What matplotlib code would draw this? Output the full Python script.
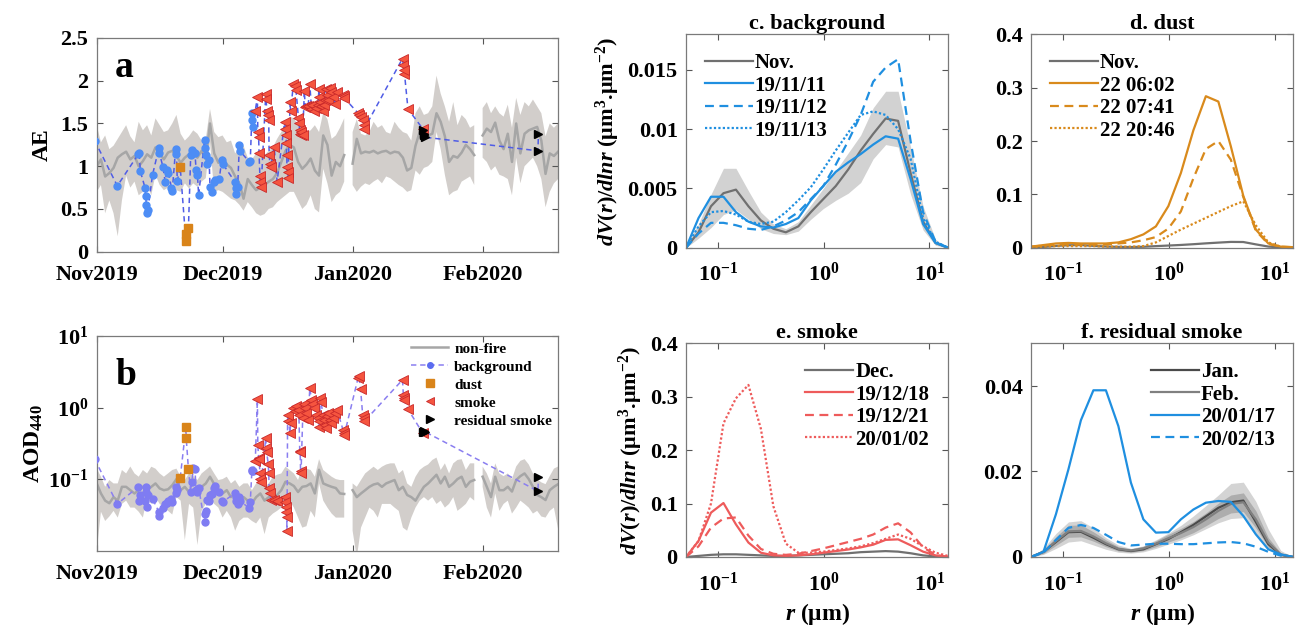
import numpy as np
import matplotlib
matplotlib.use("Agg")
import matplotlib.pyplot as plt
from matplotlib.lines import Line2D

plt.rcParams["font.family"] = ["Liberation Serif", "DejaVu Serif"]
plt.rcParams["font.weight"] = "bold"
plt.rcParams["axes.labelweight"] = "bold"
plt.rcParams["axes.titleweight"] = "bold"
plt.rcParams["mathtext.fontset"] = "custom"
plt.rcParams["mathtext.rm"] = "Liberation Serif:bold"
plt.rcParams["mathtext.it"] = "Liberation Serif:italic:bold"
plt.rcParams["mathtext.bf"] = "Liberation Serif:bold"

# ---------------------- time series (days since 2019-11-01) ----------------------
month_ticks = [0, 30, 61, 92]
month_labels = ["Nov2019", "Dec2019", "Jan2020", "Feb2020"]

nan = np.nan
nf_days = np.arange(111)
nf_ae_mean = [1.00, 1.08, 0.88, 0.92, 0.98, 1.10, 1.14, 1.17, 1.08, 1.12,
              1.00, 1.06, 1.14, 1.10, 1.22, 1.15, 1.08, 1.16, 1.18, 1.12,
              1.04, 1.10, 1.14, 1.16, 1.10, 1.18, 1.08, 1.50, 1.15, 1.04,
              1.10, 1.02, 0.98, 0.88, 0.80, 0.62, 0.85, 0.78, 0.72, 0.75,
              0.78, 0.82, 0.85, 0.92, 1.05, 1.18, 1.25, 1.22, 1.05, 0.97,
              1.02, 1.09, 0.95, 0.89, 1.36, 1.25, 0.89, 1.05, 1.00, 1.13,
              nan, 1.03, 1.32, 1.15, 1.17, 1.16, 1.18, 1.15, 1.17, 1.18,
              1.15, 1.17, 1.16, 1.10, 0.95, 0.98, 1.24, 1.40, 1.33, 1.36,
              1.38, 1.62, 1.52, 1.35, 1.05, 1.12, 1.10, 1.16, 1.25, 1.20,
              1.13, nan, 1.36, 1.44, 1.40, 1.51, 1.30, 1.20, 1.38, 1.05,
              1.50, 1.15, 1.38, 1.42, 1.44, 1.46, 1.30, 0.91, 1.15, 1.12, 1.17]
nf_ae_lo = [0.70, 0.78, 0.45, 0.60, 0.45, 0.18, 0.60, 0.89, 0.75, 0.82,
            0.66, 0.70, 0.78, 0.66, 0.90, 0.78, 0.72, 0.75, 0.80, 0.72,
            0.70, 0.80, 0.74, 0.80, 0.76, 0.82, 0.86, 1.28, 0.70, 0.72,
            0.70, 0.66, 0.62, 0.60, 0.55, 0.48, 0.58, 0.52, 0.45, 0.42,
            0.44, 0.50, 0.52, 0.58, 0.62, 0.66, 0.70, 0.70, 0.60, 0.50,
            0.55, 0.66, 0.50, 0.46, 0.97, 0.80, 0.58, 0.66, 0.70, 0.82,
            nan, 0.78, 0.70, 0.76, 0.80, 0.78, 0.82, 0.85, 0.80, 0.88,
            0.86, 0.82, 0.78, 0.75, 0.70, 0.72, 0.95, 0.90, 0.98, 1.00,
            1.05, 1.40, 1.20, 0.90, 0.66, 0.70, 0.72, 0.82, 0.85, 0.88,
            0.78, nan, 1.10, 1.05, 0.95, 1.00, 0.90, 0.88, 0.85, 0.66,
            1.10, 0.80, 1.00, 1.05, 1.10, 1.00, 0.85, 0.52, 0.70, 0.80, 0.85]
nf_ae_hi = [1.48, 1.28, 1.36, 1.20, 1.24, 1.32, 1.40, 1.48, 1.35, 1.28,
            1.52, 1.42, 1.48, 1.36, 1.56, 1.48, 1.40, 1.42, 1.50, 1.60,
            1.38, 1.30, 1.35, 1.42, 1.38, 1.30, 1.32, 1.67, 1.40, 1.34,
            1.36, 1.28, 1.30, 1.15, 1.22, 1.24, 1.10, 1.08, 1.15, 1.12,
            1.13, 1.18, 1.22, 1.32, 1.40, 1.50, 1.58, 1.56, 1.48, 1.44,
            1.40, 1.42, 1.48, 1.40, 1.63, 1.55, 1.32, 1.36, 1.45, 1.56,
            nan, 1.40, 1.55, 1.38, 1.36, 1.40, 1.52, 1.45, 1.48, 1.40,
            1.38, 1.52, 1.45, 1.40, 1.38, 1.30, 1.62, 1.70, 1.60, 1.62,
            1.70, 2.06, 1.85, 1.70, 1.52, 1.75, 1.48, 1.60, 1.55, 1.45,
            1.48, nan, 1.68, 1.75, 1.62, 1.70, 1.62, 1.58, 1.72, 1.45,
            1.80, 1.60, 1.75, 1.70, 1.78, 1.70, 1.62, 1.35, 1.50, 1.45, 1.50]

nf_aod_mean = [0.087, 0.063, 0.050, 0.046, 0.056, 0.050, 0.078, 0.078, 0.070, 0.063,
               0.070, 0.078, 0.070, 0.078, 0.087, 0.074, 0.070, 0.072, 0.082, 0.100,
               0.070, 0.078, 0.066, 0.065, 0.063, 0.078, 0.087, 0.108, 0.085, 0.070,
               0.063, 0.070, 0.056, 0.063, 0.052, 0.056, 0.050, 0.046, 0.056, 0.063,
               0.050, 0.056, 0.058, 0.060, 0.070, 0.092, 0.087, 0.080, 0.066, 0.078,
               0.080, 0.087, 0.063, 0.135, 0.087, 0.082, 0.078, 0.075, 0.063, 0.062,
               nan, 0.070, 0.056, 0.063, 0.070, 0.078, 0.084, 0.087, 0.078, 0.087,
               0.092, 0.097, 0.070, 0.078, 0.060, 0.056, 0.050, 0.063, 0.078, 0.087,
               0.100, 0.115, 0.087, 0.108, 0.078, 0.087, 0.100, 0.108, 0.078, 0.092,
               0.097, nan, 0.108, 0.078, 0.056, 0.108, 0.070, 0.070, 0.078, 0.067,
               0.097, 0.110, 0.120, 0.100, 0.078, 0.060, 0.056, 0.051, 0.070, 0.078, 0.085]
nf_aod_lo = [0.010, 0.035, 0.026, 0.030, 0.036, 0.029, 0.045, 0.050, 0.040, 0.040,
             0.035, 0.029, 0.056, 0.045, 0.056, 0.045, 0.040, 0.036, 0.032, 0.056,
             0.050, 0.014, 0.045, 0.040, 0.012, 0.036, 0.045, 0.063, 0.045, 0.040,
             0.029, 0.036, 0.029, 0.019, 0.026, 0.029, 0.029, 0.026, 0.024, 0.029,
             0.017, 0.029, 0.033, 0.036, 0.040, 0.056, 0.050, 0.040, 0.029, 0.021,
             0.022, 0.036, 0.029, 0.087, 0.050, 0.040, 0.033, 0.029, 0.029, 0.029,
             nan, 0.019, 0.008, 0.021, 0.029, 0.040, 0.036, 0.029, 0.045, 0.045,
             0.045, 0.040, 0.036, 0.021, 0.019, 0.029, 0.040, 0.050, 0.056, 0.050,
             0.056, 0.045, 0.050, 0.040, 0.045, 0.056, 0.036, 0.040, 0.045, 0.056,
             0.050, nan, 0.078, 0.040, 0.029, 0.063, 0.036, 0.045, 0.050, 0.033,
             0.040, 0.050, 0.045, 0.040, 0.033, 0.036, 0.030, 0.029, 0.036, 0.040, 0.020]
nf_aod_hi = [0.140, 0.108, 0.078, 0.097, 0.087, 0.087, 0.134, 0.120, 0.150, 0.120,
             0.108, 0.134, 0.120, 0.149, 0.140, 0.120, 0.108, 0.120, 0.134, 0.140,
             0.108, 0.097, 0.120, 0.110, 0.097, 0.120, 0.134, 0.150, 0.120, 0.097,
             0.100, 0.108, 0.087, 0.097, 0.078, 0.087, 0.087, 0.070, 0.087, 0.097,
             0.078, 0.087, 0.108, 0.115, 0.120, 0.149, 0.134, 0.120, 0.097, 0.149,
             0.140, 0.134, 0.108, 0.190, 0.134, 0.120, 0.108, 0.100, 0.097, 0.097,
             nan, 0.087, 0.078, 0.097, 0.120, 0.134, 0.149, 0.134, 0.149, 0.160,
             0.166, 0.166, 0.120, 0.134, 0.087, 0.078, 0.108, 0.134, 0.149, 0.160,
             0.185, 0.200, 0.134, 0.166, 0.120, 0.166, 0.185, 0.190, 0.134, 0.166,
             0.166, nan, 0.150, 0.120, 0.087, 0.166, 0.120, 0.110, 0.120, 0.100,
             0.150, 0.180, 0.190, 0.160, 0.120, 0.100, 0.090, 0.085, 0.110, 0.140, 0.150]

bg_day = [-0.5, 4.9, 9.9, 10.1, 10.4, 11.5, 11.7, 11.8, 11.9, 12.2, 13.3, 14.8, 14.9,
          15.8, 16.3, 16.8, 17.1, 17.8, 18.0, 18.8, 19.0, 19.2, 22.4, 22.7, 23.0, 23.4,
          23.7, 24.0, 24.3, 25.7, 25.9, 26.1, 26.4, 26.8, 27.0, 27.4, 27.9, 28.2, 29.2,
          29.8, 30.0, 32.9, 33.1, 33.3, 33.6, 34.0, 34.1, 36.4, 36.6, 37.0, 37.1, 37.3]
bg_ae = [1.30, 0.77, 1.14, 1.16, 0.94, 0.75, 0.65, 0.55, 0.45, 0.49, 0.90, 1.21, 1.16,
         0.99, 0.82, 0.95, 0.92, 0.75, 0.71, 1.20, 1.14, 0.83, 1.13, 1.19, 1.17, 1.16,
         0.95, 0.90, 0.66, 1.31, 1.21, 1.13, 1.03, 1.07, 0.76, 0.70, 0.82, 0.84, 0.85,
         1.07, 1.03, 0.82, 0.74, 0.68, 0.76, 1.25, 1.18, 1.05, 1.06, 1.62, 1.54, 1.46]
bg_aod = [0.19, 0.045, 0.078, 0.050, 0.059, 0.050, 0.078, 0.066, 0.041, 0.060, 0.053,
          0.035, 0.031, 0.039, 0.045, 0.046, 0.050, 0.052, 0.048, 0.063, 0.078, 0.070,
          0.067, 0.092, 0.141, 0.137, 0.071, 0.066, 0.076, 0.025, 0.033, 0.036, 0.051,
          0.050, 0.059, 0.062, 0.074, 0.079, 0.065, 0.050, 0.048, 0.063, 0.056, 0.050,
          0.045, 0.056, 0.050, 0.039, 0.048, 0.134, 0.131, 0.130]

dust_day = [19.9, 21.25, 21.32, 21.86]
dust_ae = [0.99, 0.12, 0.21, 0.28]
dust_aod = [0.104, 0.53, 0.38, 0.137]

smoke_day = [37.8, 38.3, 38.4, 38.6, 38.7, 38.9, 39.0, 39.2, 40.3, 40.4,
             40.5, 40.9, 41.0, 41.1, 41.3, 41.5, 42.3, 43.0, 44.8, 45.0,
             45.1, 45.2, 45.3, 45.35, 45.5, 45.6, 46.1, 46.2, 46.9, 47.2,
             47.5, 48.1, 48.2, 48.4, 48.5, 48.6, 48.7, 49.1, 49.5, 49.7,
             50.0, 50.4, 50.8, 51.2, 51.4, 51.9, 52.2, 52.7, 53.0, 53.1,
             53.3, 53.5, 53.9, 54.1, 54.4, 54.7, 55.0, 55.2, 55.6, 55.8,
             56.4, 56.9, 57.3, 58.7, 58.9, 59.0, 62.3, 62.5, 62.9, 63.4,
             63.6, 63.8, 72.9, 73.1, 73.2, 73.3, 74.2, 77.7]
smoke_ae = [1.65, 1.81, 1.40, 1.34, 1.15, 0.88, 0.82, 0.76, 1.85, 1.79,
            1.65, 1.60, 1.54, 1.13, 1.03, 0.99, 1.23, 0.82, 1.52, 1.44,
            1.36, 1.27, 1.13, 0.99, 0.93, 0.86, 1.75, 1.65, 1.96, 1.94,
            1.89, 1.56, 1.50, 1.42, 1.38, 1.36, 1.40, 1.36, 1.88, 1.69,
            1.71, 1.70, 1.96, 1.67, 1.72, 1.65, 1.68, 1.72, 1.90, 1.81,
            1.75, 1.70, 1.65, 1.72, 1.78, 1.90, 1.83, 1.77, 1.91, 1.87,
            1.81, 1.73, 1.87, 1.83, 1.82, 1.80, 1.62, 1.60, 1.58, 1.54,
            1.48, 1.44, 2.26, 2.18, 2.08, 2.12, 1.67, 1.44]
smoke_aod = [0.18, 1.30, 0.30, 0.20, 0.19, 0.12, 0.10, 0.09, 0.38, 0.27,
             0.24, 0.16, 0.12, 0.074, 0.063, 0.051, 0.051, 0.050, 0.056, 0.048,
             0.041, 0.035, 0.030, 0.019, 0.64, 0.79, 0.44, 0.60, 1.00, 0.88,
             1.05, 0.93, 0.79, 0.25, 0.24, 0.13, 0.12, 0.71, 1.12, 0.98,
             0.83, 0.67, 1.87, 1.28, 1.12, 0.98, 0.79, 0.71, 0.64, 0.54,
             1.35, 1.21, 0.79, 0.67, 0.57, 0.51, 0.75, 0.83, 0.67, 0.60,
             0.71, 0.83, 0.93, 0.49, 0.44, 0.41, 2.58, 2.78, 1.81, 0.79,
             0.71, 0.64, 2.44, 1.50, 1.38, 1.28, 0.95, 0.44]

resid_day = [77.9, 78.0, 78.1, 78.2, 105.2, 105.3]
resid_ae = [1.42, 1.38, 1.36, 1.34, 1.18, 1.38]
resid_aod = [0.46, 0.47, 0.45, 0.46, 0.068, 0.108]

# ---------------------- volume size distributions ----------------------
radius = [0.05, 0.065604, 0.086077, 0.112939, 0.148184, 0.194429, 0.255105, 0.334716,
          0.439173, 0.576227, 0.756052, 0.991996, 1.301571, 1.707757, 2.240702,
          2.939966, 3.857452, 5.06126, 6.640745, 8.713145, 11.432287, 15.0]

nov_mean = [0.0, 0.0013, 0.0035, 0.0046, 0.0049, 0.0035, 0.0023, 0.0016, 0.0013, 0.0018, 0.0030,
            0.0041, 0.0052, 0.0066, 0.0082, 0.0096, 0.0109, 0.0107, 0.0063, 0.0022, 0.0004, 0.0]
nov_lo = [0.0, 0.0008, 0.0017, 0.0028, 0.0032, 0.0024, 0.0016, 0.0012, 0.0011, 0.0014, 0.0024,
          0.0033, 0.0040, 0.0046, 0.0055, 0.0075, 0.0087, 0.0085, 0.0045, 0.0015, 0.0002, 0.0]
nov_hi = [0.0002, 0.0020, 0.0045, 0.0067, 0.0067, 0.0048, 0.0030, 0.0020, 0.0016, 0.0022, 0.0036,
          0.0050, 0.0065, 0.0080, 0.0095, 0.0118, 0.0132, 0.0132, 0.0085, 0.0035, 0.0007, 0.0]
bg_1111 = [0.0, 0.0025, 0.0043, 0.0043, 0.0030, 0.0022, 0.0018, 0.0017, 0.0020, 0.0025, 0.0040,
           0.0052, 0.0064, 0.0072, 0.0079, 0.0087, 0.0094, 0.0092, 0.0058, 0.0020, 0.0004, 0.0]
bg_1112 = [0.0, 0.0012, 0.0021, 0.0021, 0.0019, 0.0016, 0.0015, 0.0018, 0.0023, 0.0030, 0.0041,
           0.0052, 0.0070, 0.0090, 0.0112, 0.0140, 0.0152, 0.0159, 0.0090, 0.0030, 0.0005, 0.0]
bg_1113 = [0.0, 0.0018, 0.0030, 0.0031, 0.0028, 0.0022, 0.0020, 0.0022, 0.0030, 0.0040, 0.0051,
           0.0066, 0.0082, 0.0097, 0.0112, 0.0115, 0.0112, 0.0100, 0.0075, 0.0025, 0.0005, 0.0]

dust_0602 = [0.002, 0.005, 0.008, 0.009, 0.008, 0.008, 0.008, 0.010, 0.016, 0.025, 0.040,
             0.078, 0.140, 0.220, 0.284, 0.274, 0.190, 0.097, 0.034, 0.008, 0.002, 0.001]
dust_0741 = [0.002, 0.004, 0.006, 0.006, 0.006, 0.006, 0.006, 0.008, 0.010, 0.014, 0.020,
             0.036, 0.068, 0.130, 0.185, 0.200, 0.165, 0.095, 0.032, 0.007, 0.002, 0.001]
dust_2046 = [0.001, 0.002, 0.003, 0.003, 0.003, 0.003, 0.002, 0.002, 0.002, 0.003, 0.010,
             0.022, 0.034, 0.045, 0.056, 0.067, 0.078, 0.087, 0.042, 0.010, 0.002, 0.0]

dec_mean = [0.0, 0.002, 0.004, 0.005, 0.005, 0.004, 0.003, 0.002, 0.002, 0.003, 0.004,
            0.005, 0.006, 0.007, 0.009, 0.010, 0.011, 0.010, 0.007, 0.003, 0.001, 0.0]
smoke_1218 = [0.0, 0.030, 0.083, 0.101, 0.061, 0.027, 0.008, 0.003, 0.002, 0.003, 0.005,
              0.008, 0.011, 0.014, 0.018, 0.023, 0.032, 0.033, 0.022, 0.010, 0.003, 0.0]
smoke_1221 = [0.0, 0.020, 0.055, 0.072, 0.074, 0.040, 0.015, 0.006, 0.004, 0.006, 0.011,
              0.016, 0.022, 0.028, 0.034, 0.042, 0.055, 0.063, 0.046, 0.018, 0.004, 0.0]
smoke_0102 = [0.0, 0.030, 0.100, 0.250, 0.297, 0.322, 0.240, 0.095, 0.025, 0.008, 0.008,
              0.010, 0.013, 0.016, 0.020, 0.026, 0.034, 0.042, 0.034, 0.020, 0.008, 0.002]

jan_mean = [0.0, 0.0012, 0.0035, 0.0058, 0.0059, 0.0045, 0.0030, 0.0018, 0.0014, 0.0018, 0.0030,
            0.0042, 0.0058, 0.0075, 0.0095, 0.0115, 0.0128, 0.0132, 0.0082, 0.0030, 0.0005, 0.0]
jan_lo = [0.0, 0.0006, 0.0020, 0.0035, 0.0038, 0.0028, 0.0018, 0.0011, 0.0009, 0.0012, 0.0020,
          0.0030, 0.0040, 0.0052, 0.0066, 0.0080, 0.0090, 0.0092, 0.0055, 0.0018, 0.0003, 0.0]
jan_hi = [0.0, 0.0020, 0.0055, 0.0082, 0.0085, 0.0068, 0.0045, 0.0028, 0.0020, 0.0026, 0.0040,
          0.0056, 0.0074, 0.0096, 0.0120, 0.0145, 0.0172, 0.0175, 0.0130, 0.0065, 0.0015, 0.0]
feb_mean = [0.0, 0.0012, 0.0037, 0.0060, 0.0061, 0.0048, 0.0032, 0.0019, 0.0015, 0.0020, 0.0031,
            0.0044, 0.0056, 0.0070, 0.0088, 0.0108, 0.0124, 0.0128, 0.0088, 0.0034, 0.0006, 0.0]
feb_lo = [0.0, 0.0008, 0.0027, 0.0046, 0.0047, 0.0037, 0.0024, 0.0014, 0.0011, 0.0015, 0.0024,
          0.0035, 0.0045, 0.0057, 0.0073, 0.0090, 0.0103, 0.0106, 0.0068, 0.0023, 0.0003, 0.0]
feb_hi = [0.0, 0.0016, 0.0047, 0.0074, 0.0075, 0.0059, 0.0040, 0.0024, 0.0019, 0.0025, 0.0038,
          0.0053, 0.0067, 0.0083, 0.0103, 0.0126, 0.0145, 0.0150, 0.0108, 0.0045, 0.0009, 0.0]
resid_0117 = [0.0, 0.0012, 0.0100, 0.0205, 0.0320, 0.0390, 0.0390, 0.0306, 0.0174, 0.0088, 0.0057,
              0.0058, 0.0088, 0.0111, 0.0127, 0.0131, 0.0129, 0.0096, 0.0053, 0.0018, 0.0006, 0.0]
resid_0213 = [0.0, 0.0010, 0.0040, 0.0068, 0.0075, 0.0068, 0.0052, 0.0035, 0.0027, 0.0029, 0.0031,
              0.0031, 0.0030, 0.0030, 0.0032, 0.0034, 0.0035, 0.0032, 0.0024, 0.0012, 0.0003, 0.0]

# colours
BAND = "#d2cecb"
NF_LINE = "#a6a6a6"
DUST = "#d9841a"
SMOKE_FACE = "#f5553f"
SMOKE_EDGE = "#c8282a"
BLUE = "#1f8fe0"
ORANGE = "#d98a1c"
RED = "#ee5b5b"
GRAY = "#707070"

DASH = (0, (4, 2.5))
DOT = (0, (1, 1))
MU = "\u03bc"


def style_axes(ax, xpad=9):
    ax.tick_params(direction="in", top=True, right=True, length=4, width=0.8,
                   labelsize=16, color="#555555", pad=6)
    ax.tick_params(axis="x", pad=xpad)
    for sp in ax.spines.values():
        sp.set_color("#7a7a7a")
        sp.set_linewidth(0.9)


def draw_series(ax, nf_mean, nf_lo, nf_hi, bg, dust, smoke, resid, link_color, bg_color):
    ax.fill_between(nf_days, nf_lo, nf_hi, color=BAND, lw=0, zorder=1)
    ax.plot(nf_days, nf_mean, color=NF_LINE, lw=1.8, zorder=2)

    # every retrieval, in time order, joined by one dashed line
    t_all = np.concatenate([bg_day, dust_day, smoke_day, resid_day])
    y_all = np.concatenate([bg, dust, smoke, resid])
    order = np.argsort(t_all, kind="stable")
    ax.plot(t_all[order], y_all[order], ls=(0, (3.5, 2.5)), color=link_color, lw=1.1, zorder=3)

    ax.plot(bg_day, bg, ls="none", marker="o", ms=5, mfc=bg_color, mec=bg_color, zorder=4)
    ax.plot(dust_day, dust, ls="none", marker="s", ms=6, mfc=DUST, mec=DUST, zorder=4)
    ax.plot(smoke_day, smoke, ls="none", marker="<", ms=6.5, mfc=SMOKE_FACE,
            mec=SMOKE_EDGE, mew=0.6, zorder=5)
    ax.plot(resid_day, resid, ls="none", marker=">", ms=6, color="k", zorder=5)

    ax.set_xlim(0, 110)
    ax.set_xticks(month_ticks)
    ax.set_xticklabels(month_labels)
    style_axes(ax, xpad=9.5)


fig = plt.figure(figsize=(13.04, 6.31), dpi=100)
ax_a = fig.add_axes([0.0742, 0.6011, 0.3538, 0.3387])
ax_b = fig.add_axes([0.0742, 0.1273, 0.3538, 0.3403])
ax_c = fig.add_axes([0.5261, 0.6074, 0.2009, 0.3382])
ax_d = fig.add_axes([0.7906, 0.6074, 0.2012, 0.3382])
ax_e = fig.add_axes([0.5261, 0.1173, 0.2009, 0.3387])
ax_f = fig.add_axes([0.7906, 0.1173, 0.2012, 0.3387])

# ---- a: Angstrom exponent
draw_series(ax_a, nf_ae_mean, nf_ae_lo, nf_ae_hi, bg_ae, dust_ae, smoke_ae, resid_ae,
            "#4f5ce6", "#4d8df5")
ax_a.set_ylim(0, 2.5)
ax_a.set_yticks([0, 0.5, 1, 1.5, 2, 2.5])
ax_a.set_yticklabels(["0", "0.5", "1", "1.5", "2", "2.5"])
ax_a.set_ylabel("AE", fontsize=17)
ax_a.yaxis.set_label_coords(-0.095, 0.5)
ax_a.text(0.04, 0.817, "a", transform=ax_a.transAxes, fontsize=27, fontweight="bold",
          va="baseline")

# ---- b: AOD 440
draw_series(ax_b, nf_aod_mean, nf_aod_lo, nf_aod_hi, bg_aod, dust_aod, smoke_aod, resid_aod,
            "#8a7ef0", "#7f7cf2")
ax_b.set_yscale("log")
ax_b.set_ylim(0.01, 10)
ax_b.set_yticks([0.1, 1, 10])
ax_b.set_yticklabels([r"$10^{-1}$", r"$10^{0}$", r"$10^{1}$"])
ax_b.minorticks_off()
ax_b.set_ylabel(r"AOD$_{440}$", fontsize=17)
ax_b.yaxis.set_label_coords(-0.112, 0.5)
ax_b.text(0.04, 0.77, "b", transform=ax_b.transAxes, fontsize=27, fontweight="bold",
          va="baseline")
leg_handles = [
    Line2D([], [], color=NF_LINE, lw=1.8, label="non-fire"),
    Line2D([], [], color="#8a7ef0", ls=(0, (3.5, 2.5)), lw=1.1, marker="o", ms=4,
           mfc="#5b6cf0", mec="#5b6cf0", label="background"),
    Line2D([], [], ls="none", marker="s", ms=6, mfc=DUST, mec=DUST, label="dust"),
    Line2D([], [], ls="none", marker="<", ms=6, mfc=SMOKE_FACE, mec=SMOKE_EDGE,
           mew=0.6, label="smoke"),
    Line2D([], [], ls="none", marker=">", ms=6, color="k", label="residual smoke"),
]
ax_b.legend(handles=leg_handles, loc="upper right", frameon=False,
            prop={"size": 11, "weight": "bold"}, handlelength=2.4, handletextpad=0.4,
            labelspacing=0.28, borderaxespad=0.1, borderpad=0.3)

# ---- size distributions
vol_label = "$dV(r)/dlnr$ (" + MU + "m$^{3}$." + MU + "m$^{-2}$)"
r_label = "$r$ (" + MU + "m)"
leg_kw = dict(frameon=False, prop={"size": 15, "weight": "bold"}, handlelength=2.3,
              handletextpad=0.1, labelspacing=0.12, borderaxespad=0.5, borderpad=0.4)


def style_size(ax, ymax, yticks, ylabels, title):
    ax.set_xscale("log")
    ax.set_xlim(0.05, 15)
    ax.set_xticks([0.1, 1, 10])
    ax.set_xticklabels([r"$10^{-1}$", r"$10^{0}$", r"$10^{1}$"])
    ax.minorticks_off()
    ax.set_ylim(0, ymax)
    ax.set_yticks(yticks)
    ax.set_yticklabels(ylabels)
    ax.set_title(title, fontsize=16, fontweight="bold", pad=4)
    style_axes(ax, xpad=11)


# c: background
ax_c.fill_between(radius, nov_lo, nov_hi, color="#d2d2d2", lw=0)
ax_c.plot(radius, nov_mean, color=GRAY, lw=1.6, label="Nov.")
ax_c.plot(radius, bg_1111, color=BLUE, lw=1.6, label="19/11/11")
ax_c.plot(radius, bg_1112, color=BLUE, lw=1.6, ls=DASH, label="19/11/12")
ax_c.plot(radius, bg_1113, color=BLUE, lw=1.6, ls=DOT, label="19/11/13")
style_size(ax_c, 0.018, [0, 0.005, 0.01, 0.015], ["0", "0.005", "0.01", "0.015"],
           "c. background")
ax_c.legend(loc="upper left", **leg_kw)
ax_c.set_ylabel(vol_label, fontsize=16)
ax_c.yaxis.set_label_coords(-0.245, 0.5)

# d: dust
ax_d.plot(radius, nov_mean, color=GRAY, lw=1.6, label="Nov.")
ax_d.plot(radius, dust_0602, color=ORANGE, lw=1.6, label="22 06:02")
ax_d.plot(radius, dust_0741, color=ORANGE, lw=1.6, ls=DASH, label="22 07:41")
ax_d.plot(radius, dust_2046, color=ORANGE, lw=1.6, ls=DOT, label="22 20:46")
style_size(ax_d, 0.4, [0, 0.1, 0.2, 0.3, 0.4], ["0", "0.1", "0.2", "0.3", "0.4"], "d. dust")
ax_d.legend(loc="upper left", **leg_kw)

# e: smoke
ax_e.plot(radius, dec_mean, color=GRAY, lw=1.6, label="Dec.")
ax_e.plot(radius, smoke_1218, color=RED, lw=1.6, label="19/12/18")
ax_e.plot(radius, smoke_1221, color=RED, lw=1.6, ls=DASH, label="19/12/21")
ax_e.plot(radius, smoke_0102, color=RED, lw=1.6, ls=DOT, label="20/01/02")
style_size(ax_e, 0.4, [0, 0.1, 0.2, 0.3, 0.4], ["0", "0.1", "0.2", "0.3", "0.4"], "e. smoke")
ax_e.legend(loc="upper right", **leg_kw)
ax_e.set_ylabel(vol_label, fontsize=16)
ax_e.yaxis.set_label_coords(-0.155, 0.5)
ax_e.set_xlabel(r_label, fontsize=17, labelpad=4)

# f: residual smoke
ax_f.fill_between(radius, jan_lo, jan_hi, color="#d4d4d4", lw=0)
ax_f.fill_between(radius, feb_lo, feb_hi, color="#adadad", lw=0)
ax_f.plot(radius, jan_mean, color="#4a4a4a", lw=1.6, label="Jan.")
ax_f.plot(radius, feb_mean, color="#808080", lw=1.6, label="Feb.")
ax_f.plot(radius, resid_0117, color=BLUE, lw=1.6, label="20/01/17")
ax_f.plot(radius, resid_0213, color=BLUE, lw=1.6, ls=DASH, label="20/02/13")
style_size(ax_f, 0.05, [0, 0.02, 0.04], ["0", "0.02", "0.04"], "f. residual smoke")
ax_f.legend(loc="upper right", **leg_kw)
ax_f.set_xlabel(r_label, fontsize=17, labelpad=4)

fig.savefig("out.png", dpi=100, facecolor="white")
